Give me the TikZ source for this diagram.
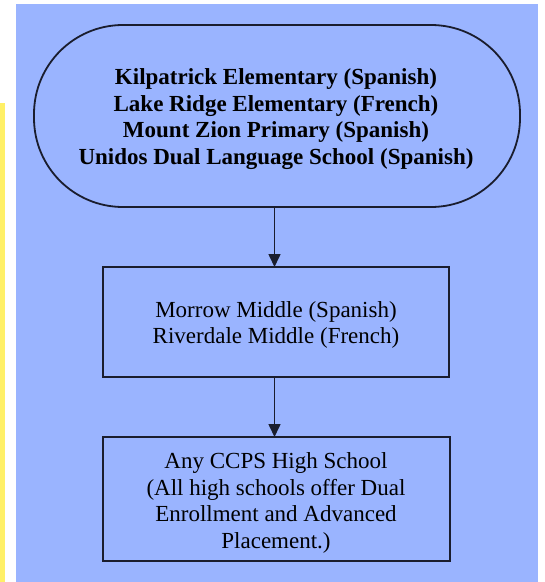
\documentclass[tikz,border=0pt]{standalone}
\usepackage{fontspec}
\setmainfont{Liberation Serif}
\usetikzlibrary{arrows.meta}
\definecolor{bgblue}{HTML}{9AB4FF}
\definecolor{ystrip}{HTML}{FFF066}
\definecolor{edge}{HTML}{1A1D2E}
\tikzset{
  flowbox/.style={draw=edge, line width=1.8pt, fill=bgblue},
  flowarrow/.style={draw=edge, line width=1.6pt, -{Triangle[width=12pt,length=13pt]}},
  txt/.style={align=center, font=\fontsize{23}{26.5}\selectfont, text=black}
}
\begin{document}
\begin{tikzpicture}[x=1pt,y=-1pt]
\useasboundingbox (0,0) rectangle (545,582);
\fill[white] (0,0) rectangle (545,582);
\fill[ystrip] (0,103) rectangle (5,582);
\fill[bgblue] (16,4) rectangle (538,582);
% stadium
\draw[flowbox, rounded corners=89pt] (34,25) rectangle (520,207);
\node[txt, font=\bfseries\fontsize{23}{26.5}\selectfont] (top) at (276,119)
  {Kilpatrick Elementary (Spanish)\\Lake Ridge Elementary (French)\\Mount Zion Primary (Spanish)\\Unidos Dual Language School (Spanish)};
\coordinate (topb) at (274.5,207);
% box 2
\draw[flowbox] (103,267) rectangle (449,377);
\node[txt] (mid) at (276,325) {Morrow Middle (Spanish)\\Riverdale Middle (French)};
\coordinate (midt) at (274.5,267);
\coordinate (midb) at (274.5,377);
% box 3
\draw[flowbox] (103,437) rectangle (450,561);
\node[txt] (hs) at (276,503) {Any CCPS High School\\(All high schools offer Dual\\Enrollment and Advanced\\Placement.)};
\coordinate (hst) at (274.5,437);
\draw[flowarrow] (topb) -- (midt);
\draw[flowarrow] (midb) -- (hst);
\end{tikzpicture}
\end{document}
